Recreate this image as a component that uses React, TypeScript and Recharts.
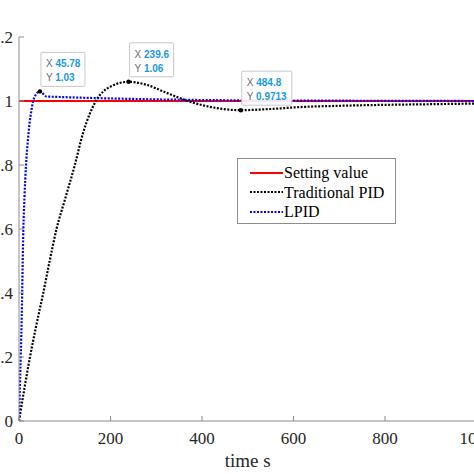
import React from "react";
import {
  LineChart, Line, XAxis, YAxis, Legend, ReferenceDot
} from "recharts";

// time axis (s) and response values
const setT = [0, 1000];
const setV = [1, 1];

const pidT = [0, 11.6, 24, 38, 53, 67, 82, 100, 122, 140, 168, 200, 239.6, 280, 320, 369, 420, 484.8, 550, 614, 700, 800, 900, 1000];
const pidV = [0, 0.1, 0.2, 0.3, 0.4, 0.5, 0.6, 0.69, 0.8, 0.9, 1.0, 1.045, 1.06, 1.05, 1.027, 1.0, 0.981, 0.9713, 0.975, 0.981, 0.985, 0.988, 0.99, 0.992];

const lpidT = [0, 2, 4, 6, 9.5, 12, 15.3, 19, 23, 27, 31, 36, 40, 45.78, 50, 55, 60, 80, 100, 200, 300, 400, 500, 700, 1000];
const lpidV = [0, 0.11, 0.21, 0.33, 0.6, 0.7, 0.8, 0.87, 0.93, 0.97, 1.0, 1.018, 1.026, 1.03, 1.027, 1.019, 1.014, 1.013, 1.012, 1.008, 1.005, 1.003, 1.002, 1.001, 1.0];

const xTicks = [0, 200, 400, 600, 800, 1000];
const yTicks = [0, 0.2, 0.4, 0.6, 0.8, 1, 1.2];

const tipX = [45.78, 239.6, 484.8];
const tipY = [1.03, 1.06, 0.9713];
const tipXText = ["45.78", "239.6", "484.8"];
const tipYText = ["1.03", "1.06", "0.9713"];

const seriesNames = ["Setting value", "Traditional PID", "LPID"];
const seriesColors = ["#ff0000", "#000000", "#0000ff"];
const seriesDash = [undefined, "2 1.5", "2 1.5"];

const toRows = (t: number[], v: number[]) => t.map((x, i) => ({ t: x, v: v[i] }));

const serif = "Liberation Serif, Times New Roman, DejaVu Serif, serif";
const sans = "Liberation Sans, Arial, sans-serif";
const axisGray = "#8a8a8a";

function DataTip(props: any) {
  const { cx, cy, xText, yText } = props;
  const len = Math.max(xText.length, yText.length) + 2;
  const w = 6 * len + 2;
  const h = 34;
  const left = cx + 1;
  const top = cy - 5 - h;
  return (
    <g>
      <circle cx={cx} cy={cy} r={2.2} fill="#000" />
      <rect x={left} y={top} width={w} height={h} fill="#fff" fillOpacity={0.9} stroke="#c8c8c8" strokeWidth={1} rx={1} />
      <text x={left + 5} y={top + 15} style={{ fontFamily: sans, fontSize: 10 }}>
        <tspan fill="#6b6b6b">X </tspan>
        <tspan fill="#1b98e0" fontWeight={600}>{xText}</tspan>
      </text>
      <text x={left + 5} y={top + 29} style={{ fontFamily: sans, fontSize: 10 }}>
        <tspan fill="#6b6b6b">Y </tspan>
        <tspan fill="#1b98e0" fontWeight={600}>{yText}</tspan>
      </text>
    </g>
  );
}

function LegendBox() {
  return (
    <div style={{
      position: "absolute", left: 237, top: 158, width: 157, height: 60,
      border: "1px solid #8c8c8c", background: "#fff", boxSizing: "content-box",
      fontFamily: serif, fontSize: 16, color: "#000", paddingTop: 4
    }}>
      {seriesNames.map((n, i) => (
        <div key={n} style={{ display: "flex", alignItems: "center", height: 19.5, paddingLeft: 12 }}>
          <svg width={33} height={6} style={{ marginRight: 1 }}>
            <line x1={0} y1={3} x2={33} y2={3} stroke={seriesColors[i]} strokeWidth={2}
              strokeDasharray={seriesDash[i]} />
          </svg>
          <span style={{ lineHeight: "19px", fontFamily: serif }}>{n}</span>
        </div>
      ))}
    </div>
  );
}

const tickStyle = { fill: "#262626", fontSize: 17, style: { fontFamily: serif } };

export default function App() {
  const fmt = (v: number) => String(Number(v.toFixed(1)));
  return (
    <div style={{ position: "absolute", left: 0, top: 0, width: 474, height: 474, overflow: "hidden", background: "#fff", fontFamily: serif }}>
      <LineChart width={500} height={474} margin={{ top: 37, right: 23.5, bottom: 0, left: 0 }} style={{ fontFamily: serif }}>
        <XAxis xAxisId="b" dataKey="t" type="number" domain={[0, 1000]} ticks={xTicks} allowDataOverflow
          orientation="bottom" height={53} stroke={axisGray} tickSize={-5} tickMargin={16}
          tick={tickStyle}
          label={{ value: "time s", position: "insideBottom", offset: 7, fill: "#262626", fontSize: 19, style: { fontFamily: serif } }} />
        <XAxis xAxisId="top" dataKey="t" type="number" domain={[0, 1000]} ticks={xTicks} orientation="top"
          height={0} stroke={axisGray} tickSize={-5} tick={false} />
        <YAxis yAxisId="l" type="number" domain={[0, 1.2]} ticks={yTicks} allowDataOverflow width={19}
          stroke={axisGray} tickSize={-5} tickMargin={11} tickFormatter={fmt}
          tick={tickStyle} />
        <YAxis yAxisId="r" orientation="right" type="number" domain={[0, 1.2]} ticks={yTicks} width={0}
          stroke={axisGray} tickSize={-5} tick={false} />
        <Legend layout="vertical" align="center" verticalAlign="middle" content={() => <LegendBox />}
          wrapperStyle={{ position: "absolute", left: 0, top: 0, width: 0, height: 0 }} />
        <Line xAxisId="b" yAxisId="l" data={toRows(setT, setV)} dataKey="v" name={seriesNames[0]}
          stroke={seriesColors[0]} strokeWidth={2} dot={false} isAnimationActive={false} />
        <Line xAxisId="b" yAxisId="l" data={toRows(pidT, pidV)} dataKey="v" name={seriesNames[1]} type="monotone"
          stroke={seriesColors[1]} strokeWidth={2.2} strokeDasharray={seriesDash[1]} dot={false} isAnimationActive={false} />
        <Line xAxisId="b" yAxisId="l" data={toRows(lpidT, lpidV)} dataKey="v" name={seriesNames[2]} type="monotone"
          stroke={seriesColors[2]} strokeWidth={2.2} strokeDasharray={seriesDash[2]} dot={false} isAnimationActive={false} />
        {tipX.map((x, i) => (
          <ReferenceDot key={i} xAxisId="b" yAxisId="l" x={x} y={tipY[i]} r={2}
            shape={(p: any) => <DataTip {...p} xText={tipXText[i]} yText={tipYText[i]} />} />
        ))}
      </LineChart>
    </div>
  );
}
